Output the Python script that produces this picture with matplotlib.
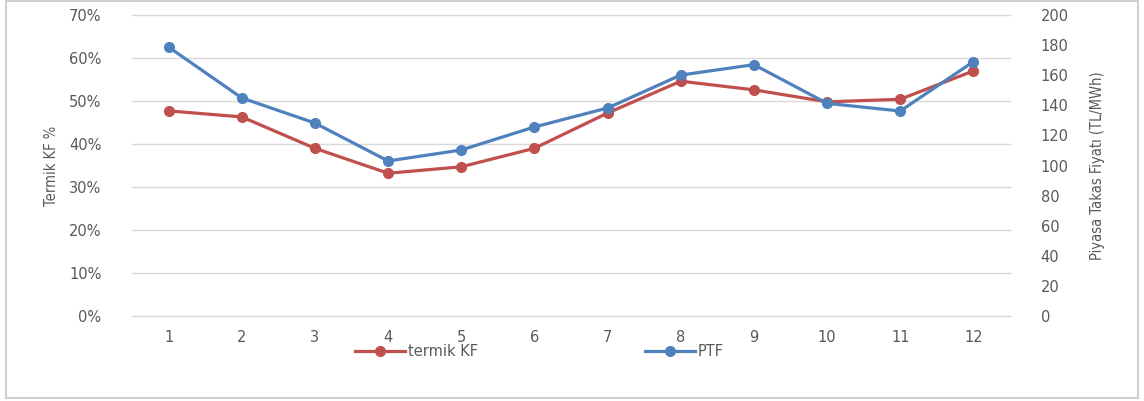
import numpy as np
import matplotlib
matplotlib.use("Agg")
import matplotlib.pyplot as plt
from matplotlib.ticker import FuncFormatter

months = [1, 2, 3, 4, 5, 6, 7, 8, 9, 10, 11, 12]
termik_kf = [47.7, 46.3, 39.0, 33.2, 34.7, 39.0, 47.2, 54.6, 52.6, 49.8, 50.4, 57.0]
ptf = [178.7, 144.9, 128.2, 103.0, 110.3, 125.6, 138.2, 160.1, 167.0, 141.3, 136.2, 169.0]

red = "#C0504D"
blue = "#4F81BD"
txt = "#595959"
grid = "#D9D9D9"

plt.rcParams['font.family'] = ['DejaVu Sans']

fig = plt.figure(figsize=(11.44, 4.01), dpi=100)
fig.patches.append(plt.Rectangle((0.005, 0.007), 0.99, 0.99, transform=fig.transFigure,
                                 fill=False, edgecolor="#D0D0D0", lw=1.5))

ax = fig.add_axes([132/1144, 1-316/401, (1010-132)/1144, (316-15)/401])
ax2 = ax.twinx()

x = np.arange(len(months))
l1, = ax.plot(x, termik_kf, color=red, lw=2.3, marker='o', ms=7, label='termik KF')
l2, = ax2.plot(x, ptf, color=blue, lw=2.3, marker='o', ms=7, label='PTF')

ax.set_xlim(-0.5, len(months) - 0.5)
ax.set_ylim(0, 70)
ax2.set_ylim(0, 200)
ax.set_yticks(np.arange(0, 71, 10))
ax2.set_yticks(np.arange(0, 201, 20))
ax.yaxis.set_major_formatter(FuncFormatter(lambda v, p: f"{v:.0f}%"))
ax.set_xticks(x)
ax.set_xticklabels([str(m) for m in months])

ax.grid(axis='y', color=grid, lw=1)
for gl in ax.get_ygridlines():
    gl.set_clip_on(False)
ax.set_axisbelow(True)
for a in (ax, ax2):
    for s in a.spines.values():
        s.set_visible(False)
    a.tick_params(length=0, colors=txt, labelsize=10.5)
ax.tick_params(axis='y', pad=22)
ax.tick_params(axis='x', pad=10)
ax2.tick_params(axis='y', pad=22)
ax2.set_zorder(ax.get_zorder() + 1)
ax2.patch.set_visible(False)

ax.set_ylabel("Termik KF %", fontstretch='condensed', fontsize=10.5, color=txt, labelpad=7)
ax2.set_ylabel("Piyasa Takas Fiyatı (TL/MWh)", fontstretch='condensed', fontsize=10.5,
               color=txt, labelpad=15)

fig.legend([l1, l2], ['termik KF', 'PTF'], loc='center', bbox_to_anchor=(0.4715, 1-352/401),
           ncol=2, frameon=False, fontsize=10.5, labelcolor=txt, handlelength=3.4,
           handletextpad=0.2, columnspacing=11.5)

fig.savefig("out.png", dpi=100)
